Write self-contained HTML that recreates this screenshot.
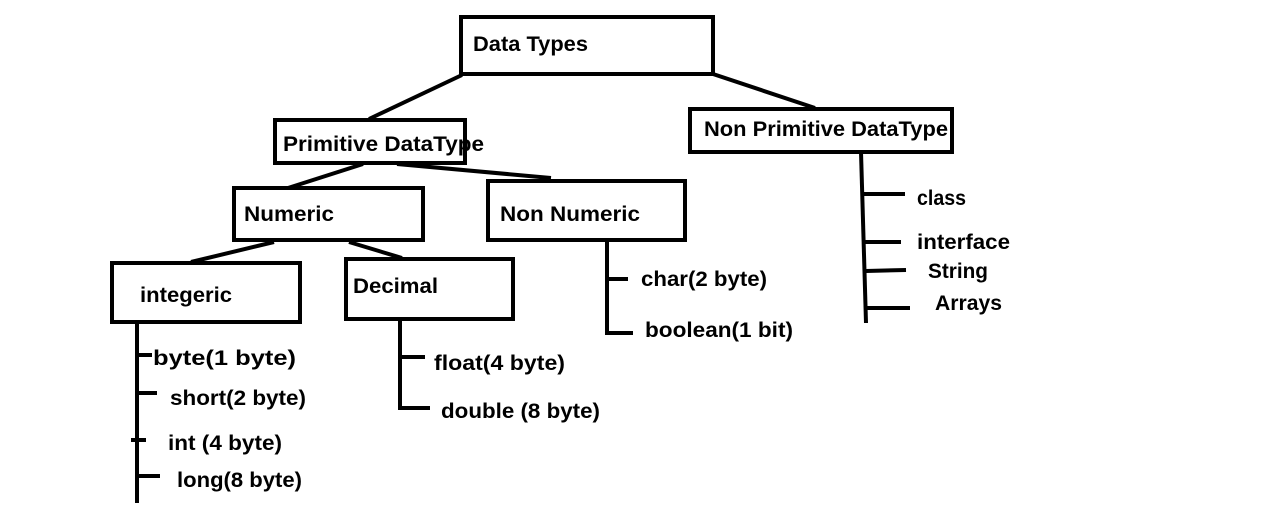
<!DOCTYPE html>
<html><head><meta charset="utf-8"><style>
html,body{margin:0;padding:0;background:#fff;}
svg{display:block}
text{font-family:"Liberation Sans",sans-serif;font-weight:bold;font-size:21px;fill:#000}
</style></head><body>
<svg width="1280" height="506" viewBox="0 0 1280 506" xmlns="http://www.w3.org/2000/svg">
<g fill="none" stroke="#000" stroke-width="4">
<rect x="461" y="17" width="252" height="57"/>
<rect x="275" y="120" width="190" height="43"/>
<rect x="690" y="109" width="262" height="43"/>
<rect x="234" y="188" width="189" height="52"/>
<rect x="488" y="181" width="197" height="59"/>
<rect x="112" y="263" width="188" height="59"/>
<rect x="346" y="259" width="167" height="60"/>
<line x1="462" y1="75" x2="369" y2="119"/>
<line x1="713" y1="74" x2="815" y2="108"/>
<line x1="363" y1="164" x2="288" y2="188"/>
<line x1="397" y1="164" x2="551" y2="178"/>
<line x1="274" y1="242" x2="191" y2="262"/>
<line x1="349" y1="242" x2="402" y2="258"/>
<line x1="137" y1="322" x2="137" y2="503"/>
<line x1="137" y1="355" x2="152" y2="355"/>
<line x1="137" y1="393" x2="157" y2="393"/>
<line x1="131" y1="440" x2="146" y2="440"/>
<line x1="137" y1="476" x2="160" y2="476"/>
<line x1="400" y1="319" x2="400" y2="410"/>
<line x1="400" y1="357" x2="425" y2="357"/>
<line x1="400" y1="408" x2="430" y2="408"/>
<line x1="607" y1="241" x2="607" y2="335"/>
<line x1="607" y1="279" x2="628" y2="279"/>
<line x1="607" y1="333" x2="633" y2="333"/>
<line x1="861" y1="152" x2="866" y2="323"/>
<line x1="863" y1="194" x2="905" y2="194"/>
<line x1="865" y1="242" x2="901" y2="242"/>
<line x1="866" y1="271" x2="906" y2="270"/>
<line x1="867" y1="308" x2="910" y2="308"/>
</g>
<text x="473" y="51" textLength="115" lengthAdjust="spacingAndGlyphs">Data Types</text>
<text x="283" y="151" textLength="201" lengthAdjust="spacingAndGlyphs">Primitive DataType</text>
<text x="704" y="136" textLength="244" lengthAdjust="spacingAndGlyphs">Non Primitive DataType</text>
<text x="244" y="221" textLength="90" lengthAdjust="spacingAndGlyphs">Numeric</text>
<text x="500" y="221" textLength="140" lengthAdjust="spacingAndGlyphs">Non Numeric</text>
<text x="140" y="302" textLength="92" lengthAdjust="spacingAndGlyphs">integeric</text>
<text x="353" y="293" textLength="85" lengthAdjust="spacingAndGlyphs">Decimal</text>
<text x="153" y="365" textLength="143" lengthAdjust="spacingAndGlyphs">byte(1 byte)</text>
<text x="170" y="405" textLength="136" lengthAdjust="spacingAndGlyphs">short(2 byte)</text>
<text x="168" y="450" textLength="114" lengthAdjust="spacingAndGlyphs">int (4 byte)</text>
<text x="177" y="487" textLength="125" lengthAdjust="spacingAndGlyphs">long(8 byte)</text>
<text x="434" y="370" textLength="131" lengthAdjust="spacingAndGlyphs">float(4 byte)</text>
<text x="441" y="418" textLength="159" lengthAdjust="spacingAndGlyphs">double (8 byte)</text>
<text x="641" y="286" textLength="126" lengthAdjust="spacingAndGlyphs">char(2 byte)</text>
<text x="645" y="337" textLength="148" lengthAdjust="spacingAndGlyphs">boolean(1 bit)</text>
<text x="917" y="205" textLength="49" lengthAdjust="spacingAndGlyphs">class</text>
<text x="917" y="249" textLength="93" lengthAdjust="spacingAndGlyphs">interface</text>
<text x="928" y="278" textLength="60" lengthAdjust="spacingAndGlyphs">String</text>
<text x="935" y="310" textLength="67" lengthAdjust="spacingAndGlyphs">Arrays</text>
</svg>
</body></html>
